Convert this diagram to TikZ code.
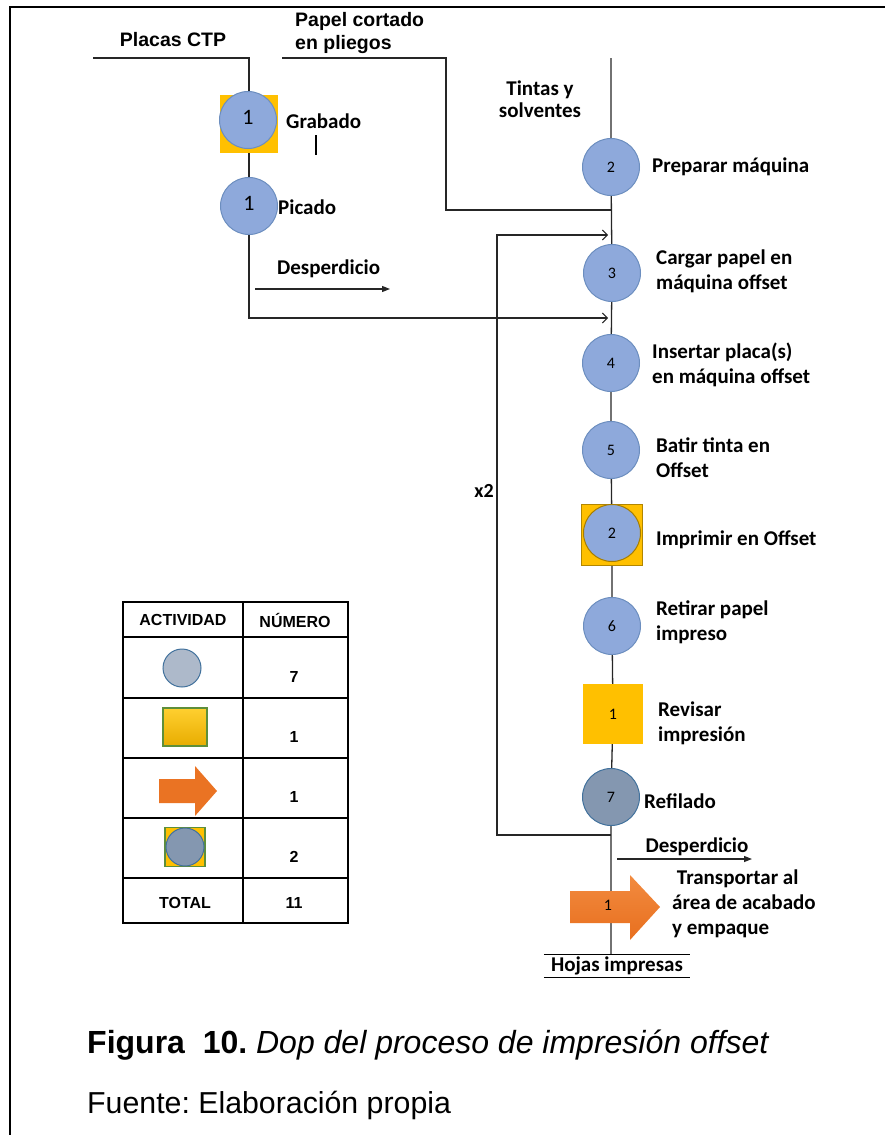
\documentclass[tikz,border=0pt]{standalone}
\usepackage{fontspec}
\setmainfont{Carlito}
\newfontfamily\arialf{Liberation Sans}
\usetikzlibrary{arrows.meta,backgrounds}
\definecolor{opblue}{HTML}{8EA9DB}
\definecolor{opblueb}{HTML}{6C8EBF}
\definecolor{opdark}{HTML}{8497B0}
\definecolor{opdarkb}{HTML}{41719C}
\definecolor{opyellow}{HTML}{FFC000}
\definecolor{oporangeA}{HTML}{F28B40}
\definecolor{oporangeB}{HTML}{E86F1E}
\definecolor{legcirc}{HTML}{ADB9CA}
\definecolor{leggreen}{HTML}{5E8F3A}
\definecolor{legyelA}{HTML}{FFD030}
\definecolor{legyelB}{HTML}{E8AC00}
\frenchspacing

\tikzset{
  flow/.style={line width=1.3pt, draw=black!85},
  openend/.style={-{Straight Barb[length=5pt,width=10pt,line width=1pt]}},
  fillend/.style={-{Triangle[length=8pt,width=6pt]}},
  opcirc/.style={circle, minimum size=57pt, inner sep=0pt, fill=opblue,
    draw=opblueb, line width=1pt, font=\fontsize{16}{16}\selectfont},
  bigone/.style={font=\fontsize{22}{22}\selectfont},
  inspbox/.style={rectangle, minimum size=60pt, inner sep=0pt, fill=opyellow,
    font=\fontsize{16}{16}\selectfont},
  lbl/.style={anchor=west, align=left, inner sep=0pt,
    font=\bfseries\fontsize{21}{25}\selectfont},
  albl/.style={inner sep=0pt, align=left, font=\arialf\bfseries\fontsize{19.5}{23}\selectfont},
  tabtxt/.style={inner sep=0pt, font=\arialf\bfseries\fontsize{16}{16}\selectfont},
}

\begin{document}
\begin{tikzpicture}[x=1pt,y=-1pt]
\useasboundingbox (0,0) rectangle (885,1135);

% page frame (top and left edges)
\draw[line width=2.2pt] (10,1135) -- (10,7) -- (885,7);

% ---------- plate preparation (left branch) ----------
\node[inspbox, minimum size=58pt] (grabsq) at (249,124) {};
\node[opcirc, bigone] (grab) at (248,120) {\raisebox{5pt}{1}};
\node[lbl] (grablbl) at (286,121) {Grabado};
\draw[line width=1.2pt] (316,135) -- (316,155);
\node[opcirc, bigone] (pic) at (249,206) {\raisebox{5pt}{1}};
\node[lbl] (piclbl) at (278,207) {Picado};
\node[albl] (ctp) at (173,40) {Placas CTP};
\coordinate (ctpin) at (93,58);
\coordinate (waste1a) at (255,289);
\coordinate (waste1b) at (390,289);
\node[lbl] (waste1lbl) at (277,269) {Desperdicio};

% paper input
\node[albl, anchor=west] (papel) at (295,33) {Papel cortado\\en pliegos};
\coordinate (papelin) at (282,58);
\coordinate (papelcorner) at (446,58);

% ---------- main printing line ----------
\node[inner sep=0pt, align=center, font=\bfseries\fontsize{21}{22}\selectfont] (tintas) at (540,99) {Tintas y\\solventes};
\coordinate (maintop) at (611,58);
\node[opcirc] (c2) at (611,167) {2};
\node[lbl] at (652,167) {Preparar máquina};
\coordinate (jpapel) at (611,210);
\coordinate (loopin) at (608,235);
\node[opcirc] (c3) at (612,273) {3};
\node[lbl] at (656,271) {Cargar papel en\\máquina offset};
\coordinate (platein) at (608,318);
\node[opcirc] (c4) at (611,363) {4};
\node[lbl] at (652,365) {Insertar placa(s)\\en máquina offset};
\node[opcirc] (c5) at (611,450) {5};
\node[lbl] at (656,458) {Batir tinta en\\Offset};
\node[inspbox, minimum size=61pt, draw=black!30!opyellow, line width=0.8pt] (impsq) at (612,535) {};
\node[opcirc, draw=black!35!opyellow] (imp) at (612,533) {2};
\node[lbl] at (656,540) {Imprimir en Offset};
\node[opcirc] (c6) at (612,626) {6};
\node[lbl] at (656,622) {Retirar papel\\impreso};
\node[inspbox] (rev) at (613,714) {1};
\node[lbl] at (658,723) {Revisar\\impresión};
\node[opcirc, fill=opdark, draw=opdarkb] (c7) at (611,797) {7};
\node[lbl] at (644,801) {Refilado};
\coordinate (loopout) at (611,835);
\coordinate (loopbl) at (497,835);
\coordinate (looptl) at (497,235);
\node[inner sep=0pt, font=\bfseries\fontsize{20}{20}\selectfont] (rep) at (484,491) {x2};
\coordinate (waste2a) at (617,859);
\coordinate (waste2b) at (752,859);
\node[inner sep=0pt, font=\bfseries\fontsize{21}{21}\selectfont] (waste2lbl) at (697,847) {Desperdicio};

% transport arrow
\shade[top color=oporangeA, bottom color=oporangeB]
  (570,891) -- (630,891) -- (630,875) -- (660,907) -- (630,940) -- (630,923) -- (570,923) -- cycle;
\node[inner sep=0pt, font=\fontsize{16}{16}\selectfont] (tr) at (608,905) {1};
\node[lbl] at (672,904) {\ Transportar al\\área de acabado\\y empaque};

% output
\node[inner sep=0pt, minimum width=146pt, minimum height=22pt,
  font=\bfseries\fontsize{21}{21}\selectfont] (hojas) at (617,966) {Hojas impresas};
\draw[line width=1.3pt] (hojas.north west) -- (hojas.north east);
\draw[line width=1.3pt] (hojas.south west) -- (hojas.south east);

\begin{scope}[on background layer]
  \draw[flow] (ctpin) -| (grabsq.north);
  \draw[flow] (grabsq.south) -- (pic.north);
  \draw[flow, openend] (pic.south) |- (platein);
  \draw[flow] (papelin) -- (papelcorner) |- (jpapel);
  \draw[flow] (maintop) -- (c2) -- (c3) -- (c4) -- (c5) -- (impsq) -- (c6)
    -- (rev) -- (c7) -- (c7 |- hojas.north);
  \draw[flow, openend] (loopout) -- (loopbl) -- (looptl) -- (loopin);
\end{scope}
\draw[flow, fillend] (waste1a) -- (waste1b);
\draw[flow, fillend] (waste2a) -- (waste2b);

% ---------- summary table ----------
\draw[line width=1.3pt] (123,602) rectangle (348,923);
\foreach \yy in {637,698,758,818,878} \draw[line width=1.3pt] (123,\yy) -- (348,\yy);
\draw[line width=1.3pt] (243,602) -- (243,923);
\node[tabtxt] at (183,620) {ACTIVIDAD};
\node[tabtxt] at (295,620) {NÚMERO};
\node[circle, minimum size=38pt, inner sep=0pt, fill=legcirc, draw=opdarkb, line width=1pt] (legop) at (182,668) {};
\node[tabtxt] at (294,677) {7};
\node[rectangle, minimum width=44pt, minimum height=38pt, inner sep=0pt,
  top color=legyelA, bottom color=legyelB, draw=leggreen, line width=1.5pt] (legin) at (185,727) {};
\node[tabtxt] at (294,737) {1};
\fill[oporangeB!85!oporangeA]
  (159,779) -- (195,779) -- (195,766) -- (217,791) -- (195,816) -- (195,803) -- (159,803) -- cycle;
\node[tabtxt] at (294,797) {1};
\node[rectangle, minimum width=40pt, minimum height=39pt, inner sep=0pt,
  fill=opyellow, draw=leggreen, line width=1.5pt] (legcomb) at (185,847) {};
\node[circle, minimum size=38pt, inner sep=0pt, fill=opdark, draw=opdarkb, line width=1pt] at (185,847) {};
\node[tabtxt] at (294,857) {2};
\node[tabtxt] at (185,903) {TOTAL};
\node[tabtxt] at (294,903) {11};

% ---------- caption ----------
\node[anchor=base west, inner sep=0pt, font=\arialf\fontsize{32}{36}\selectfont] (cap) at (87,1053)
  {\textbf{Figura\ \ 10.} \textit{Dop del proceso de impresión offset}};
\node[anchor=base west, inner sep=0pt, font=\arialf\fontsize{30.3}{36}\selectfont] (src) at (87,1113)
  {Fuente: Elaboración propia};
\end{tikzpicture}
\end{document}
